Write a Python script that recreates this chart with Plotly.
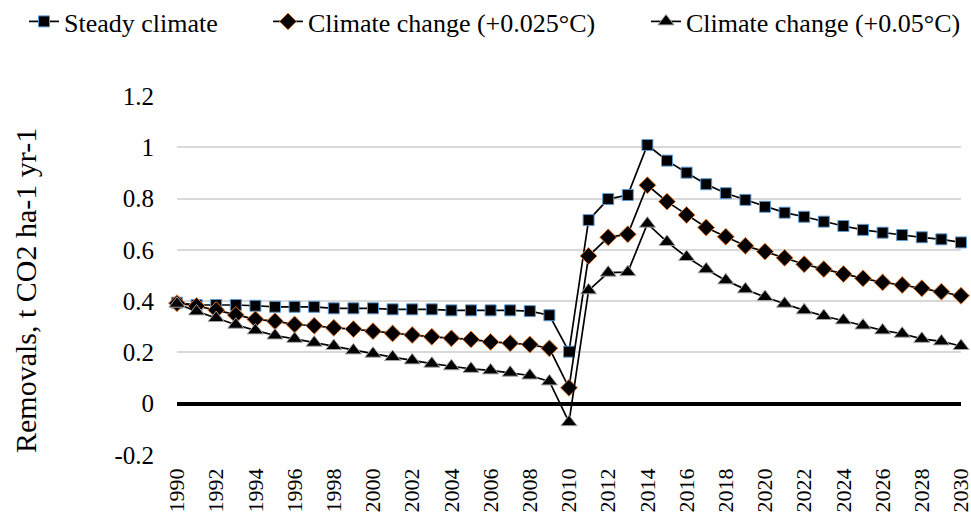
import plotly.graph_objects as go

years = list(range(1990, 2031))

steady = [0.394, 0.385, 0.385, 0.385, 0.382, 0.378, 0.378, 0.378, 0.372, 0.372,
          0.372, 0.368, 0.368, 0.368, 0.364, 0.364, 0.364, 0.364, 0.361, 0.345,
          0.203, 0.716, 0.798, 0.814, 1.009, 0.948, 0.901, 0.856, 0.821, 0.795,
          0.768, 0.745, 0.729, 0.710, 0.693, 0.678, 0.667, 0.658, 0.649, 0.641,
          0.629]

cc025 = [0.392, 0.381, 0.365, 0.346, 0.329, 0.322, 0.309, 0.304, 0.296, 0.291,
         0.283, 0.274, 0.268, 0.261, 0.255, 0.251, 0.241, 0.236, 0.231, 0.216,
         0.062, 0.576, 0.649, 0.661, 0.852, 0.788, 0.736, 0.687, 0.651, 0.616,
         0.593, 0.569, 0.544, 0.525, 0.506, 0.489, 0.473, 0.463, 0.450, 0.437,
         0.421]

cc05 = [0.390, 0.360, 0.334, 0.308, 0.286, 0.266, 0.253, 0.238, 0.225, 0.208,
        0.195, 0.182, 0.169, 0.156, 0.146, 0.136, 0.130, 0.121, 0.110, 0.087,
        -0.072, 0.442, 0.511, 0.513, 0.702, 0.631, 0.572, 0.524, 0.481, 0.446,
        0.416, 0.390, 0.364, 0.342, 0.325, 0.305, 0.286, 0.273, 0.253, 0.243,
        0.225]

names = ["Steady climate", "Climate change (+0.025°C)", "Climate change (+0.05°C)"]
y_title = "Removals, t CO2 ha-1 yr-1"
y_ticks = [-0.2, 0, 0.2, 0.4, 0.6, 0.8, 1, 1.2]
y_tick_text = ["-0.2", "0", "0.2", "0.4", "0.6", "0.8", "1", "1.2"]

FONT = "Liberation Serif"

fig = go.Figure()
series = [
    (steady, names[0], "square", 11, "#5B9BD5", 199),
    (cc025, names[1], "diamond", 13, "#ED7D31", 333),
    (cc05, names[2], "triangle-up", 14, "#A5A5A5", 272),
]
for vals, nm, sym, sz, edge, lw in series:
    fig.add_trace(go.Scatter(
        x=years, y=vals, name=nm, mode="lines+markers",
        line=dict(color="black", width=1.7),
        marker=dict(symbol=sym, size=sz, color="black",
                    line=dict(color=edge, width=1)),
        cliponaxis=False, legendwidth=lw,
    ))

L, R, T, B = 177, 10, 96, 69
W, H = 971, 524
pw, ph = W - L - R, H - T - B

fig.update_layout(
    width=W, height=H,
    margin=dict(l=L, r=R, t=T, b=B, autoexpand=False),
    paper_bgcolor="white", plot_bgcolor="white",
    font=dict(family=FONT, size=24, color="black"),
    showlegend=True,
    legend=dict(orientation="h", xref="paper", yref="paper",
                x=(24 - L) / pw, y=1 + (T + 2) / ph,
                xanchor="left", yanchor="top",
                font=dict(family=FONT, size=26, color="black"),
                bgcolor="rgba(0,0,0,0)", itemclick=False),
    xaxis=dict(range=[1990, 2030], tickmode="array", tickvals=years[::2],
               ticktext=[str(y) for y in years[::2]], tickangle=-90,
               showgrid=False, zeroline=False, showline=False, ticks="",
               ticklabelstandoff=8, ticklabeloverflow="allow",
               tickfont=dict(family=FONT, size=22, color="black")),
    yaxis=dict(range=[-0.2, 1.2], tickmode="array", tickvals=y_ticks,
               ticktext=y_tick_text, showgrid=True, gridcolor="#D9D9D9",
               gridwidth=1.5, zeroline=True, zerolinecolor="black",
               zerolinewidth=4, showline=False, ticks="",
               ticklabelstandoff=22,
               tickfont=dict(family=FONT, size=25, color="black")),
    annotations=[dict(text=y_title, textangle=-90, showarrow=False,
                      xref="paper", yref="paper",
                      x=(25 - L) / pw, y=(H - B - 291) / ph,
                      xanchor="center", yanchor="middle",
                      font=dict(family=FONT, size=30, color="black"))],
)

fig.write_html("out.html", config={"displayModeBar": False},
               post_script="document.body.style.margin='0';")
